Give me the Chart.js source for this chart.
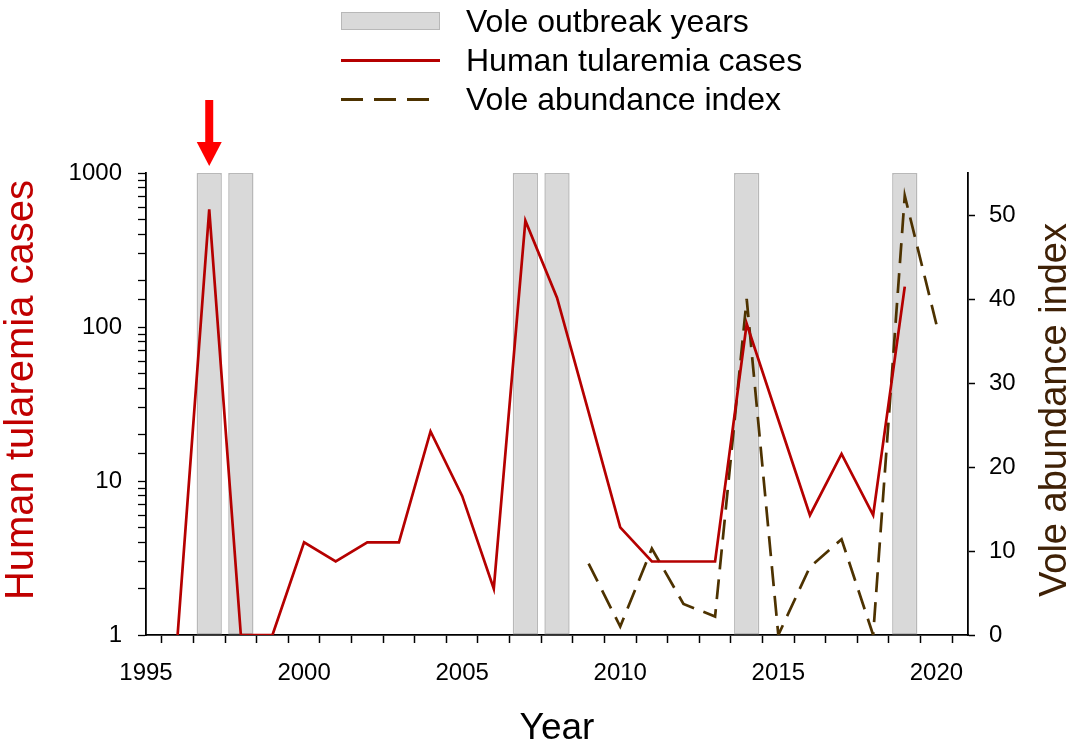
<!DOCTYPE html>
<html>
<head>
<meta charset="utf-8">
<script src="https://cdn.jsdelivr.net/npm/chart.js@4.4.1/dist/chart.umd.min.js"></script>
<style>
  html, body { margin: 0; padding: 0; background: #fff; }
  #wrap { position: relative; width: 1084px; height: 751px; font-family: "Liberation Sans", Arial, sans-serif; }
  #c { position: absolute; left: 0; top: 0; }
  .lg-row { position: absolute; left: 341px; height: 40px; display: flex; align-items: center; }
  .lg-sw { width: 99px; margin-right: 26px; position: relative; height: 20px; }
  .lg-txt { font-size: 32px; color: #000; white-space: nowrap; }
</style>
</head>
<body>
<div id="wrap">
  <canvas id="c" width="1084" height="751"></canvas>
  <div class="lg-row" style="top:1px">
    <div class="lg-sw"><div style="position:absolute;left:0;top:1px;width:97px;height:16px;background:#d9d9d9;border:1px solid #b8b8b8"></div></div>
    <div class="lg-txt">Vole outbreak years</div>
  </div>
  <div class="lg-row" style="top:40px">
    <div class="lg-sw"><div style="position:absolute;left:0;top:9px;width:99px;height:3px;background:#b50000"></div></div>
    <div class="lg-txt">Human tularemia cases</div>
  </div>
  <div class="lg-row" style="top:79px">
    <div class="lg-sw"><div style="position:absolute;left:0;top:9px;width:99px;height:3px;background:repeating-linear-gradient(90deg,#4d3200 0 22px,transparent 22px 33px)"></div></div>
    <div class="lg-txt">Vole abundance index</div>
  </div>
</div>
<script>
// ---- data ----
const caseYears = [1996,1997,1998,1999,2000,2001,2002,2003,2004,2005,2006,2007,2008,2009,2010,2011,2012,2013,2014,2015,2016,2017,2018,2019];
const cases     = [1,580,1,1,4,3,4,4,21,8,2,490,155,28,5,3,3,3,105,25,6,15,6,183];
const voleYears = [2009,2010,2011,2012,2013,2014,2015,2016,2017,2018,2019,2020];
const voleIndex = [8.5,1,10.3,3.7,2.2,40,0,8.1,11.4,0,52.3,37];
const outbreakYears = [1997,1998,2007,2008,2014,2019];
const arrowYear = 1997;
const xTickLabelsEvery = 5;
const leftTickValues = [1,10,100,1000];
const rightTickValues = [0,10,20,30,40,50];
const leftTitle = 'Human tularemia cases';
const rightTitle = 'Vole abundance index';

const FONT = "'Liberation Sans', Arial, sans-serif";

const decorPlugin = {
  id: 'decor',
  afterDraw(chart) {
    const ctx = chart.ctx;
    const ca = chart.chartArea;
    // arrow above the 1997 outbreak
    const x = chart.scales.x.getPixelForValue(arrowYear);
    const top = ca.top;
    ctx.save();
    ctx.fillStyle = '#ff0000';
    ctx.beginPath();
    ctx.rect(x - 4, top - 73, 8, 44);
    ctx.fill();
    ctx.beginPath();
    ctx.moveTo(x - 12.5, top - 31);
    ctx.lineTo(x + 12.5, top - 31);
    ctx.lineTo(x, top - 7);
    ctx.closePath();
    ctx.fill();
    ctx.restore();

    // axis titles, both reading bottom-to-top
    const midY = (ca.top + ca.bottom) / 2;
    ctx.save();
    ctx.textAlign = 'center';
    ctx.textBaseline = 'middle';
    ctx.font = '40px ' + FONT;
    ctx.fillStyle = '#c00000';
    ctx.translate(22, midY - 14);
    ctx.rotate(-Math.PI / 2);
    ctx.fillText(leftTitle, 0, 0);
    ctx.restore();

    ctx.save();
    ctx.textAlign = 'center';
    ctx.textBaseline = 'middle';
    ctx.font = '38px ' + FONT;
    ctx.fillStyle = '#3f2106';
    ctx.translate(1056, midY + 6);
    ctx.rotate(-Math.PI / 2);
    ctx.fillText(rightTitle, 0, 0);
    ctx.restore();
  }
};

new Chart(document.getElementById('c'), {
  type: 'line',
  data: {
    datasets: [
      {
        type: 'line',
        label: 'Human tularemia cases',
        data: caseYears.map((y, i) => ({x: y, y: cases[i]})),
        yAxisID: 'y',
        borderColor: '#b50000',
        borderWidth: 2.7,
        pointRadius: 0,
        tension: 0,
        order: 1
      },
      {
        type: 'line',
        label: 'Vole abundance index',
        data: voleYears.map((y, i) => ({x: y, y: voleIndex[i]})),
        yAxisID: 'y2',
        borderColor: '#4d3200',
        borderWidth: 2.7,
        borderDash: [20, 10],
        pointRadius: 0,
        tension: 0,
        order: 2
      },
      {
        type: 'bar',
        label: 'Vole outbreak years',
        data: outbreakYears.map(y => ({x: y, y: [0, 55]})),
        yAxisID: 'y2',
        backgroundColor: '#d9d9d9',
        borderColor: '#b8b8b8',
        borderWidth: 1.5,
        borderSkipped: false,
        barPercentage: 0.8,
        categoryPercentage: 1.0,
        order: 3
      }
    ]
  },
  options: {
    responsive: false,
    animation: false,
    devicePixelRatio: 1,
    layout: { padding: { top: 173, left: 0, right: 0, bottom: 0 } },
    plugins: { legend: { display: false }, tooltip: { enabled: false } },
    scales: {
      x: {
        type: 'linear',
        min: 1995, max: 2021,
        offset: false,
        afterFit(s) { s.height = 116; },
        grid: { drawOnChartArea: false, drawTicks: true, tickLength: 8, color: '#000', tickWidth: 1.5 },
        border: { display: true, color: '#000', width: 1.8 },
        ticks: {
          stepSize: 1, autoSkip: false, maxRotation: 0, padding: 16,
          color: '#000', font: { family: FONT, size: 24 },
          callback: v => (v % xTickLabelsEvery === 0 ? String(v) : '')
        },
        title: { display: true, text: 'Year', color: '#000', font: { family: FONT, size: 37 }, padding: { top: 0, bottom: 0 } }
      },
      y: {
        type: 'logarithmic',
        position: 'left',
        min: 1, max: 1000,
        afterFit(s) { s.width = 146; },
        grid: { drawOnChartArea: false, drawTicks: true, tickLength: 8, color: '#000', tickWidth: 1.3 },
        border: { display: true, color: '#000', width: 1.8 },
        ticks: {
          autoSkip: false, padding: 16, color: '#000', font: { family: FONT, size: 24 },
          callback: v => (leftTickValues.includes(Math.round(v)) && Math.abs(v - Math.round(v)) < 1e-6 ? String(Math.round(v)) : '')
        },
        title: { display: false }
      },
      y2: {
        type: 'linear',
        position: 'right',
        min: 0, max: 55,
        afterFit(s) { s.width = 116; },
        afterBuildTicks(s) { s.ticks = rightTickValues.map(v => ({ value: v })); },
        grid: { drawOnChartArea: false, drawTicks: true, tickLength: 7, color: '#000', tickWidth: 1.5 },
        border: { display: true, color: '#000', width: 1.8 },
        ticks: { autoSkip: false, padding: 14, color: '#000', font: { family: FONT, size: 24 }, callback: v => String(v) },
        title: { display: false }
      }
    }
  },
  plugins: [decorPlugin]
});
</script>
</body>
</html>
